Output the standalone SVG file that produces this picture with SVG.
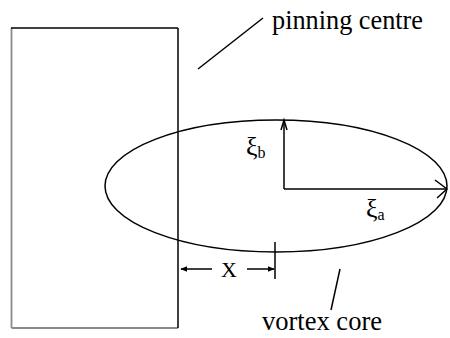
<svg xmlns="http://www.w3.org/2000/svg" width="450" height="338" viewBox="0 0 450 338">
<style>
.ln{stroke:#000;stroke-width:1.5;fill:none}
.gr{stroke:#8a8a8a;stroke-width:1.8;fill:none}
text{fill:#000}
</style>
<defs>
<marker id="fa" viewBox="0 0 10 10" refX="9" refY="5" markerWidth="7" markerHeight="7" markerUnits="userSpaceOnUse" orient="auto"><path d="M0,1 L10,5 L0,9 z" fill="#000"/></marker>
</defs>
<rect width="450" height="338" fill="#fff"/>
<g id="pinning-centre">
<line class="gr" x1="11.5" y1="28" x2="11.5" y2="328"/>
<line class="gr" x1="11.5" y1="328" x2="178" y2="328"/>
<line class="ln" x1="11" y1="28" x2="178" y2="28"/>
<line class="ln" x1="178" y1="28" x2="178" y2="328"/>
</g>
<g id="vortex-core">
<ellipse class="ln" cx="276" cy="186" rx="171" ry="66"/>
</g>
<g id="connectors">
<line class="ln" x1="284" y1="189" x2="446" y2="189"/>
<polyline class="ln" points="435,180 447,189 437,198"/>
<line class="ln" x1="284" y1="189" x2="284" y2="120"/>
<polyline class="ln" points="281,130 284,120 287,130"/>
<line class="ln" x1="275" y1="242" x2="275" y2="279"/>
<line class="ln" x1="212" y1="269" x2="181" y2="269" marker-end="url(#fa)"/>
<line class="ln" x1="247" y1="269" x2="274" y2="269" marker-end="url(#fa)"/>
<line class="ln" x1="198" y1="69" x2="263" y2="18"/>
<line class="ln" x1="340" y1="269" x2="331" y2="310"/>
</g>
<g id="labels" font-family="'Liberation Serif', 'DejaVu Serif', serif">
<text x="272" y="29" font-size="28" textLength="151" lengthAdjust="spacingAndGlyphs">pinning centre</text>
<text x="262" y="330" font-size="28" textLength="120" lengthAdjust="spacingAndGlyphs">vortex core</text>
<text x="246" y="155" font-size="26">ξ<tspan font-size="16" dy="3">b</tspan></text>
<text x="366" y="217" font-size="26">ξ<tspan font-size="16" dy="3">a</tspan></text>
<text x="221" y="277" font-size="22">X</text>
</g>
</svg>
